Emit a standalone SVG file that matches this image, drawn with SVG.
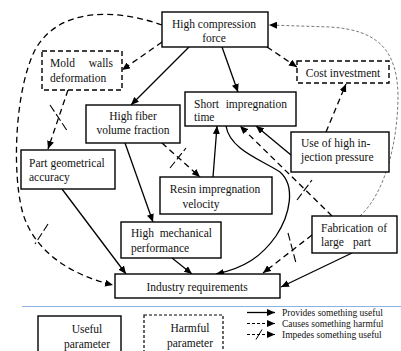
<svg xmlns="http://www.w3.org/2000/svg" width="401" height="351" viewBox="0 0 401 351" font-family="'Liberation Serif', 'Times New Roman', serif">
<style>
text{font-family:'Liberation Serif','Times New Roman',serif;font-size:11.5px;fill:#111}
.box{fill:#fff;stroke:#000;stroke-width:1.4}
.hbox{fill:#fff;stroke:#000;stroke-width:1.4;stroke-dasharray:5,3}
.s{fill:none;stroke:#000;stroke-width:1.3;marker-end:url(#ah)}
.d{fill:none;stroke:#000;stroke-width:1.3;stroke-dasharray:6,4;marker-end:url(#ah)}
.g{fill:none;stroke:#555;stroke-width:0.8;stroke-dasharray:3,2;marker-end:url(#ah)}
.x{fill:none;stroke:#000;stroke-width:1.1;stroke-dasharray:8,3}
.c{text-anchor:middle}
.e{text-anchor:end}
.lg{font-size:10px}
</style>
<defs>
<marker id="ah" markerUnits="userSpaceOnUse" markerWidth="9" markerHeight="7" refX="8" refY="3.5" orient="auto">
<path d="M0,0 L8,3.5 L0,7 z" fill="#000"/>
</marker>
</defs>
<g id="connectors">
<path class="d" d="M162,25 C120,10 60,5 35,50 C15,90 12,170 22,210 C32,250 70,275 113,285"/>
<line class="x" x1="48" y1="224" x2="35" y2="244"/>
<path class="d" d="M162,42 L122,70"/>
<path class="s" d="M189,47 L131,105"/>
<path class="s" d="M222,47 L238,92"/>
<path class="d" d="M267,47 L297,67"/>
<path class="d" d="M68,90 L48,149"/>
<line class="x" x1="50" y1="105" x2="68" y2="132"/>
<path class="d" d="M162,143 L200,177"/>
<line class="x" x1="170" y1="168" x2="186" y2="148"/>
<path class="s" d="M213,177 L217,126"/>
<path class="s" d="M125,143 L153,222"/>
<path class="s" d="M62,189 L126,274"/>
<path class="s" d="M172,258 L192,274"/>
<path class="s" d="M226,126 C230,150 262,160 280,172 C296,186 290,215 276,236 C262,256 245,268 216,274"/>
<path class="d" d="M332,216 L240,126"/>
<line class="x" x1="297" y1="200" x2="312" y2="180"/>
<path class="s" d="M291,155 L256,126"/>
<path class="d" d="M326,132 L346,84"/>
<path class="g" d="M360,216 C386,192 398,140 398,95 C397,50 378,30 330,27 L269,25"/>
<path class="d" d="M312,235 L263,273"/>
<line class="x" x1="288" y1="233" x2="296" y2="263"/>
<path class="s" d="M352,253 L281,287"/>
</g>
<g id="high-compression-force">
<rect class="box" x="162" y="12" width="106" height="35"/>
<text class="c" x="214" y="28">High compression</text>
<text class="c" x="214" y="42">force</text>
</g>
<g id="mold-walls-deformation">
<rect class="hbox" x="42" y="51" width="80" height="39"/>
<text x="50" y="67">Mold</text>
<text class="e" x="113" y="67">walls</text>
<text x="50" y="82">deformation</text>
</g>
<g id="cost-investment">
<rect class="hbox" x="297" y="61" width="92" height="22"/>
<text class="c" x="343" y="77">Cost investment</text>
</g>
<g id="high-fiber-volume-fraction">
<rect class="box" x="86" y="105" width="94" height="38"/>
<text class="c" x="133" y="120">High fiber</text>
<text class="c" x="133" y="134">volume fraction</text>
</g>
<g id="short-impregnation-time">
<rect class="box" x="185" y="92" width="111" height="34"/>
<text x="194" y="108">Short</text>
<text class="e" x="287" y="108">impregnation</text>
<text x="194" y="121">time</text>
</g>
<g id="use-of-high-injection-pressure">
<rect class="box" x="291" y="132" width="98" height="40"/>
<text x="301" y="147">Use of high in-</text>
<text x="301" y="161">jection pressure</text>
</g>
<g id="part-geometrical-accuracy">
<rect class="box" x="21" y="150" width="94" height="39"/>
<text x="29" y="167">Part geometrical</text>
<text x="29" y="181">accuracy</text>
</g>
<g id="resin-impregnation-velocity">
<rect class="box" x="160" y="177" width="112" height="37"/>
<text class="c" x="215" y="193">Resin impregnation</text>
<text class="c" x="201" y="208">velocity</text>
</g>
<g id="high-mechanical-performance">
<rect class="box" x="121" y="222" width="100" height="36"/>
<text x="131" y="237">High</text>
<text class="e" x="212" y="237">mechanical</text>
<text x="131" y="252">performance</text>
</g>
<g id="fabrication-of-large-part">
<rect class="box" x="312" y="216" width="85" height="37"/>
<text x="321" y="232">Fabrication</text>
<text class="e" x="387" y="232">of</text>
<text x="321" y="246">large</text>
<text x="353" y="246">part</text>
</g>
<g id="industry-requirements">
<rect class="box" x="115" y="274" width="165" height="24"/>
<text class="c" x="197" y="291">Industry requirements</text>
</g>
<g id="legend">
<line x1="22" y1="306.5" x2="401" y2="306.5" stroke="#8DB3E2" stroke-width="1.2"/>
<rect class="box" x="38" y="316" width="83" height="50"/>
<text class="c" x="87" y="333">Useful</text>
<text class="c" x="87" y="348">parameter</text>
<rect x="144" y="315" width="79" height="50" fill="#fff" stroke="#000" stroke-width="1.2" stroke-dasharray="3,2"/>
<text class="c" x="190" y="332">Harmful</text>
<text class="c" x="190" y="347">parameter</text>
<path class="s" d="M247,312.5 L275,312.5"/>
<path d="M247,323.5 L275,323.5" fill="none" stroke="#000" stroke-width="1.2" stroke-dasharray="3,2" marker-end="url(#ah)"/>
<path d="M247,334.5 L275,334.5" fill="none" stroke="#000" stroke-width="1.2" stroke-dasharray="3,2" marker-end="url(#ah)"/>
<line x1="256" y1="339.5" x2="262" y2="329.5" stroke="#000" stroke-width="1"/>
<text class="lg" x="282" y="316" style="font-size:9.5px">Provides something useful</text>
<text class="lg" x="282" y="327" style="font-size:9.5px">Causes something harmful</text>
<text class="lg" x="282" y="338" style="font-size:9.5px">Impedes something useful</text>
</g>
</svg>
